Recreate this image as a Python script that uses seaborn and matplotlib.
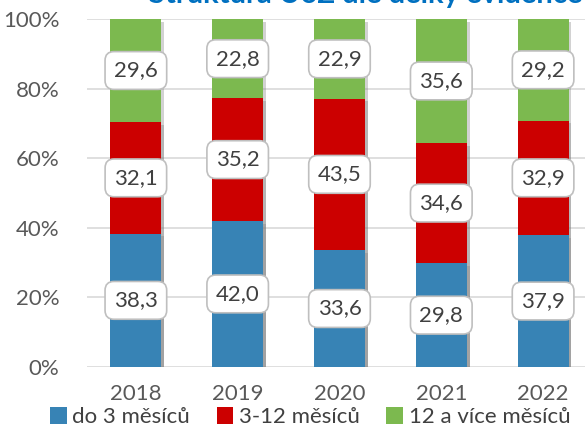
import numpy as np
import matplotlib.pyplot as plt
import matplotlib.patheffects as pe
from matplotlib.patches import Patch
import seaborn as sns
import pandas as pd

# data
years = ["2018", "2019", "2020", "2021", "2022"]
do3 = [38.3, 42.0, 33.6, 29.8, 37.9]
m3_12 = [32.1, 35.2, 43.5, 34.6, 32.9]
m12plus = [29.6, 22.8, 22.9, 35.6, 29.2]
series_names = ["do 3 měsíců", "3-12 měsíců", "12 a více měsíců"]
title = "Struktura UoZ dle délky evidence"

colors = ["#3783B5", "#CC0000", "#7CB94F"]

sns.set_theme(style="white")
plt.rcParams['font.family'] = ['Lato', 'DejaVu Sans']

df = pd.DataFrame({"rok": years, "do3": do3, "m3_12": m3_12, "m12": m12plus})
df["c1"] = df["do3"]
df["c2"] = df["do3"] + df["m3_12"]
df["c3"] = df["c2"] + df["m12"]

fig = plt.figure(figsize=(5.85, 4.28), dpi=100)
ax = fig.add_axes([87/585, 61/428, 507/585, 348/428])

shadow = [pe.SimplePatchShadow(offset=(2, -2), shadow_rgbFace="#7f7f7f", alpha=0.35), pe.Normal()]

# stacked by drawing cumulative totals, largest first
for col, c in zip(["c3", "c2", "c1"], colors[::-1]):
    sns.barplot(data=df, x="rok", y=col, color=c, width=0.5, saturation=1,
                ax=ax, edgecolor="none", zorder=2)

for p in ax.patches:
    p.set_path_effects(shadow)

# value labels
box = dict(boxstyle="round,pad=0.4,rounding_size=0.4", fc="white", ec="#BFBFBF", lw=1.2)
for i in range(len(years)):
    bottoms = [0, do3[i], do3[i] + m3_12[i]]
    for b, v in zip(bottoms, [do3[i], m3_12[i], m12plus[i]]):
        ax.text(i, b + v/2, "{:.1f}".format(v).replace(".", ","), ha="center", va="center",
                fontsize=16, color="#404040", bbox=box, zorder=5)

ax.set_xlim(-0.48, 4.5)
ax.set_ylim(0, 100)
ax.set_yticks(np.arange(0, 101, 20))
ax.set_yticklabels(["{:d}%".format(t) for t in range(0, 101, 20)])
ax.yaxis.grid(True, color="#D9D9D9", lw=1.2, zorder=0)
ax.set_axisbelow(True)
for s in ax.spines.values():
    s.set_visible(False)
ax.tick_params(axis="y", length=0, labelsize=16, colors="#595959", pad=20)
ax.tick_params(axis="x", length=0, labelsize=16, colors="#595959", pad=12)
ax.set_xlabel("")
ax.set_ylabel("")

fig.text(366/585, 1 - 3.5/428, title, ha="center", va="baseline", fontsize=21,
         fontweight="bold", color="#0070C0")

handles = [Patch(facecolor=c, edgecolor="none") for c in colors]
fig.legend(handles, series_names, loc="lower left", bbox_to_anchor=(30/585, -0.045),
           ncol=3, frameon=False, fontsize=16, handlelength=0.75, handleheight=0.75,
           handletextpad=0.25, columnspacing=1.2, labelcolor="#404040")

fig.savefig("out.png", dpi=100)
